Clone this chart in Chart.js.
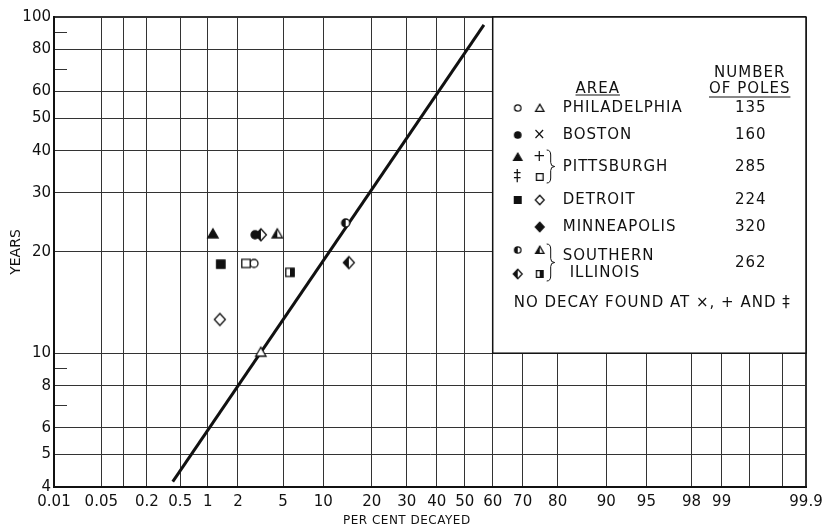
<!DOCTYPE html>
<html>
<head>
<meta charset="utf-8">
<script src="https://cdn.jsdelivr.net/npm/chart.js@4.4.1/dist/chart.umd.min.js"></script>
<style>
  html, body { margin: 0; padding: 0; background: #fff; }
  #wrap { width: 824px; height: 529px; }
</style>
</head>
<body>
<div id="wrap"><canvas id="decayChart"></canvas></div>
<script>
// axis ticks
const xTicks = [0.01, 0.05, 0.1, 0.2, 0.5, 1, 2, 5, 10, 20, 30, 40, 50, 60, 70, 80, 90, 95, 98, 99, 99.5, 99.8, 99.9];
const xTickLabels = ['0.01', '0.05', '', '0.2', '0.5', '1', '2', '5', '10', '20', '30', '40', '50', '60', '70', '80', '90', '95', '98', '99', '', '', '99.9'];
const yTicks = [4, 5, 6, 7, 8, 9, 10, 20, 30, 40, 50, 60, 70, 80, 90, 100];
const yTickLabels = ['4', '5', '6', '', '8', '', '10', '20', '30', '40', '50', '60', '', '80', '', '100'];

// points (per cent decayed, years)
const philadelphiaCircle = [{ x: 2.82, y: 18.5 }];
const philadelphiaTriangle = [{ x: 3.24, y: 10 }];
const bostonCircle = [{ x: 2.88, y: 22.5 }];
const pittsburghTriangle = [{ x: 1.13, y: 22.5 }];
const pittsburghSquare = [{ x: 2.38, y: 18.5 }];
const detroitSquare = [{ x: 1.36, y: 18.4 }];
const detroitDiamond = [{ x: 1.33, y: 12.6 }];
const illinoisCircle = [{ x: 14.05, y: 24.4 }];
const illinoisTriangle = [{ x: 4.48, y: 22.5 }];
const illinoisDiamond = [{ x: 3.25, y: 22.5 }, { x: 14.7, y: 18.6 }];
const illinoisSquare = [{ x: 5.68, y: 17.4 }];
const fitLine = [{ x: 0.41, y: 4.15 }, { x: 56.9, y: 94.7 }];

// legend table
const areaNames = ['PHILADELPHIA', 'BOSTON', 'PITTSBURGH', 'DETROIT', 'MINNEAPOLIS', 'SOUTHERN'];
const poleCounts = ['135', '160', '285', '224', '320', '262'];

const INK = '#111';
const FONT = 'DejaVu Sans';

// inverse normal cdf (Acklam)
function probit(p) {
    const a = [-39.69683028665376, 220.9460984245205, -275.9285104469687, 138.3577518672690, -30.66479806614716, 2.506628277459239];
    const b = [-54.47609879822406, 161.5858368580409, -155.6989798598866, 66.80131188771972, -13.28068155288572];
    const c = [-0.007784894002430293, -0.3223964580411365, -2.400758277161838, -2.549732539343734, 4.374664141464968, 2.938163982698783];
    const d = [0.007784695709041462, 0.3224671290700398, 2.445134137142996, 3.754408661907416];
    const pl = 0.02425;
    let q, r;
    if (p < pl) {
        q = Math.sqrt(-2 * Math.log(p));
        return (((((c[0] * q + c[1]) * q + c[2]) * q + c[3]) * q + c[4]) * q + c[5]) / ((((d[0] * q + d[1]) * q + d[2]) * q + d[3]) * q + 1);
    }
    if (p <= 1 - pl) {
        q = p - 0.5;
        r = q * q;
        return (((((a[0] * r + a[1]) * r + a[2]) * r + a[3]) * r + a[4]) * r + a[5]) * q / (((((b[0] * r + b[1]) * r + b[2]) * r + b[3]) * r + b[4]) * r + 1);
    }
    q = Math.sqrt(-2 * Math.log(1 - p));
    return -(((((c[0] * q + c[1]) * q + c[2]) * q + c[3]) * q + c[4]) * q + c[5]) / ((((d[0] * q + d[1]) * q + d[2]) * q + d[3]) * q + 1);
}

function normCdf(z) {
    const t = 1 / (1 + 0.2316419 * Math.abs(z));
    const poly = t * (0.319381530 + t * (-0.356563782 + t * (1.781477937 + t * (-1.821255978 + t * 1.330274429))));
    const v = 1 - Math.exp(-z * z / 2) / Math.sqrt(2 * Math.PI) * poly;
    return z >= 0 ? v : 1 - v;
}

// probability paper axis
class ProbitScale extends Chart.Scale {
    static id = 'probit';
    static defaults = {};

    parse(raw, index) {
        const v = Chart.LinearScale.prototype.parse.apply(this, [raw, index]);
        return isFinite(v) && v > 0 && v < 100 ? v : null;
    }
    determineDataLimits() {
        this.min = this.options.min;
        this.max = this.options.max;
    }
    buildTicks() {
        return xTicks.map(v => ({ value: v }));
    }
    configure() {
        super.configure();
        this._zStart = probit(this.min / 100);
        this._zRange = probit(this.max / 100) - this._zStart;
    }
    getPixelForValue(value) {
        if (value === null || value === undefined) return NaN;
        return this.getPixelForDecimal((probit(value / 100) - this._zStart) / this._zRange);
    }
    getValueForPixel(pixel) {
        const dec = this.getDecimalForPixel(pixel);
        return 100 * normCdf(this._zStart + dec * this._zRange);
    }
}
Chart.register(ProbitScale);

// marker glyphs
function traceShape(g, shape, cx, cy, s) {
    g.beginPath();
    if (shape === 'circle') {
        g.arc(cx, cy, 4 * s, 0, Math.PI * 2);
    } else if (shape === 'triangle') {
        g.moveTo(cx, cy - 6 * s);
        g.lineTo(cx + 5.2 * s, cy + 3 * s);
        g.lineTo(cx - 5.2 * s, cy + 3 * s);
        g.closePath();
    } else if (shape === 'square') {
        g.rect(cx - 4.2 * s, cy - 4.2 * s, 8.4 * s, 8.4 * s);
    } else if (shape === 'diamond') {
        g.moveTo(cx, cy - 6 * s);
        g.lineTo(cx + 5.5 * s, cy);
        g.lineTo(cx, cy + 6 * s);
        g.lineTo(cx - 5.5 * s, cy);
        g.closePath();
    }
}

function makeMarker(shape, fill, s = 1) {
    const c = document.createElement('canvas');
    c.width = 16;
    c.height = 16;
    const g = c.getContext('2d');
    traceShape(g, shape, 8, 8, s);
    g.fillStyle = fill === 'solid' ? INK : '#fff';
    g.fill();
    if (fill === 'left' || fill === 'right') {
        g.save();
        traceShape(g, shape, 8, 8, s);
        g.clip();
        g.fillStyle = INK;
        g.fillRect(fill === 'left' ? 0 : 8, 0, 8, 16);
        g.restore();
    }
    traceShape(g, shape, 8, 8, s);
    g.lineWidth = 1.3;
    g.strokeStyle = INK;
    g.stroke();
    return c;
}

const markers = {
    openCircle: makeMarker('circle', 'open'),
    solidCircle: makeMarker('circle', 'solid'),
    halfCircle: makeMarker('circle', 'left'),
    openTriangle: makeMarker('triangle', 'open'),
    solidTriangle: makeMarker('triangle', 'solid'),
    halfTriangle: makeMarker('triangle', 'left'),
    openSquare: makeMarker('square', 'open'),
    solidSquare: makeMarker('square', 'solid'),
    halfSquare: makeMarker('square', 'right'),
    openDiamond: makeMarker('diamond', 'open'),
    solidDiamond: makeMarker('diamond', 'solid'),
    halfDiamond: makeMarker('diamond', 'left')
};
const legendMarkers = {
    openCircle: makeMarker('circle', 'open', 0.8),
    solidCircle: makeMarker('circle', 'solid', 0.8),
    halfCircle: makeMarker('circle', 'left', 0.8),
    openTriangle: makeMarker('triangle', 'open', 0.8),
    solidTriangle: makeMarker('triangle', 'solid', 0.8),
    halfTriangle: makeMarker('triangle', 'left', 0.8),
    openSquare: makeMarker('square', 'open', 0.8),
    solidSquare: makeMarker('square', 'solid', 0.8),
    halfSquare: makeMarker('square', 'right', 0.8),
    openDiamond: makeMarker('diamond', 'open', 0.8),
    solidDiamond: makeMarker('diamond', 'solid', 0.8),
    halfDiamond: makeMarker('diamond', 'left', 0.8)
};

function pointSet(label, data, style, order) {
    return { label, data, pointStyle: style, pointRadius: 6, order, showLine: false };
}

function drawBrace(ctx, x, y1, y2) {
    const ym = (y1 + y2) / 2;
    ctx.beginPath();
    ctx.moveTo(x, y1);
    ctx.quadraticCurveTo(x + 4, y1, x + 4, y1 + 5);
    ctx.lineTo(x + 4, ym - 4);
    ctx.quadraticCurveTo(x + 4, ym, x + 8, ym);
    ctx.quadraticCurveTo(x + 4, ym, x + 4, ym + 4);
    ctx.lineTo(x + 4, y2 - 5);
    ctx.quadraticCurveTo(x + 4, y2, x, y2);
    ctx.lineWidth = 1;
    ctx.strokeStyle = INK;
    ctx.stroke();
}

// white key box over the upper right of the grid
const keyBoxPlugin = {
    id: 'keyBox',
    beforeDatasetsDraw(chart) {
        const { ctx, chartArea, scales } = chart;
        const bx = scales.x.getPixelForValue(60);
        const by = chartArea.top;
        const bw = chartArea.right - bx;
        const bh = scales.y.getPixelForValue(10) - by;
        ctx.save();
        ctx.fillStyle = '#fff';
        ctx.fillRect(bx, by, bw, bh);
        ctx.lineWidth = 1.5;
        ctx.strokeStyle = INK;
        ctx.strokeRect(bx, by, bw, bh);

        ctx.fillStyle = INK;
        ctx.textBaseline = 'middle';
        ctx.font = `15px "${FONT}"`;
        ctx.letterSpacing = '1px';

        const txt = (s, x, y, align = 'left') => {
            ctx.textAlign = align;
            ctx.fillText(s, x, y);
        };
        const underline = (s, cx, y) => {
            const w = ctx.measureText(s).width;
            ctx.beginPath();
            ctx.moveTo(cx - w / 2, y);
            ctx.lineTo(cx + w / 2, y);
            ctx.lineWidth = 1.2;
            ctx.stroke();
        };
        const sym = (m, x, y) => ctx.drawImage(legendMarkers[m], x - 8, y - 8);

        const c1 = bx + 25, c2 = bx + 47, tx = bx + 70, nx = bx + 258;

        txt('NUMBER', bx + 257, by + 56, 'center');
        txt('OF POLES', bx + 257, by + 72, 'center');
        underline('OF POLES', bx + 257, by + 80);
        txt('AREA', bx + 105, by + 72, 'center');
        underline('AREA', bx + 105, by + 78);

        // Philadelphia
        sym('openCircle', c1, by + 91);
        sym('openTriangle', c2, by + 92);
        txt(areaNames[0], tx, by + 91);
        txt(poleCounts[0], nx, by + 91, 'center');
        // Boston
        sym('solidCircle', c1, by + 118);
        txt('\u00d7', c2, by + 118, 'center');
        txt(areaNames[1], tx, by + 118);
        txt(poleCounts[1], nx, by + 118, 'center');
        // Pittsburgh
        sym('solidTriangle', c1, by + 141);
        txt('+', c2, by + 140, 'center');
        txt('\u2021', c1, by + 160, 'center');
        sym('openSquare', c2, by + 160);
        drawBrace(ctx, bx + 54, by + 133, by + 166);
        txt(areaNames[2], tx, by + 150);
        txt(poleCounts[2], nx, by + 150, 'center');
        // Detroit
        sym('solidSquare', c1, by + 183);
        sym('openDiamond', c2, by + 183);
        txt(areaNames[3], tx, by + 183);
        txt(poleCounts[3], nx, by + 183, 'center');
        // Minneapolis
        sym('solidDiamond', c2, by + 210);
        txt(areaNames[4], tx, by + 210);
        txt(poleCounts[4], nx, by + 210, 'center');
        // Southern Illinois
        sym('halfCircle', c1, by + 233);
        sym('halfTriangle', c2, by + 234);
        sym('halfDiamond', c1, by + 257);
        sym('halfSquare', c2, by + 257);
        drawBrace(ctx, bx + 54, by + 227, by + 264);
        txt(areaNames[5], tx, by + 239);
        txt('ILLINOIS', bx + 77, by + 256);
        txt(poleCounts[5], nx, by + 246, 'center');

        txt('NO DECAY FOUND AT \u00d7, + AND \u2021', bx + 21, by + 286);
        ctx.restore();
    },
    afterDraw(chart) {
        const { ctx, scales } = chart;
        ctx.save();
        ctx.fillStyle = INK;
        ctx.font = `12px "${FONT}"`;
        ctx.letterSpacing = '0.5px';
        ctx.textAlign = 'center';
        ctx.textBaseline = 'middle';
        ctx.fillText('PER CENT DECAYED', scales.x.getPixelForValue(30), 521);
        ctx.restore();
    }
};

document.addEventListener('DOMContentLoaded', function() {
    const ctx = document.getElementById('decayChart').getContext('2d');

    const datasets = [
        pointSet('Philadelphia', philadelphiaCircle, markers.openCircle, 50),
        pointSet('Philadelphia', philadelphiaTriangle, markers.openTriangle, 10),
        pointSet('Boston', bostonCircle, markers.solidCircle, 30),
        pointSet('Pittsburgh', pittsburghTriangle, markers.solidTriangle, 10),
        pointSet('Pittsburgh', pittsburghSquare, markers.openSquare, 40),
        pointSet('Detroit', detroitSquare, markers.solidSquare, 10),
        pointSet('Detroit', detroitDiamond, markers.openDiamond, 10),
        pointSet('Southern Illinois', illinoisCircle, markers.halfCircle, 10),
        pointSet('Southern Illinois', illinoisTriangle, markers.halfTriangle, 10),
        pointSet('Southern Illinois', illinoisDiamond, markers.halfDiamond, 45),
        pointSet('Southern Illinois', illinoisSquare, markers.halfSquare, 10),
        {
            label: 'fit',
            data: fitLine,
            showLine: true,
            pointRadius: 0,
            borderColor: INK,
            borderWidth: 3,
            order: 100
        }
    ];

    new Chart(ctx, {
        type: 'scatter',
        data: { datasets },
        options: {
            responsive: true,
            maintainAspectRatio: false,
            animation: false,
            events: [],
            layout: { padding: { top: 17, right: 18, left: 0, bottom: 0 } },
            plugins: {
                legend: { display: false },
                tooltip: { enabled: false }
            },
            scales: {
                x: {
                    type: 'probit',
                    min: 0.01,
                    max: 99.9,
                    afterFit: scale => {
                        scale.height = 42;
                        scale.paddingLeft = 0;
                        scale.paddingRight = 0;
                    },
                    grid: {
                        drawTicks: false,
                        color: '#333',
                        lineWidth: c => (c.tick && c.tick.value === 99.9 ? 2 : 1)
                    },
                    border: { color: INK, width: 2 },
                    ticks: {
                        autoSkip: false,
                        maxRotation: 0,
                        padding: 6,
                        color: INK,
                        font: { family: FONT, size: 15 },
                        callback: (v, i) => xTickLabels[i]
                    }
                },
                y: {
                    type: 'logarithmic',
                    min: 4,
                    max: 100,
                    afterFit: scale => {
                        scale.width = 54;
                        scale.paddingTop = 0;
                        scale.paddingBottom = 0;
                    },
                    afterBuildTicks: scale => { scale.ticks = yTicks.map(v => ({ value: v })); },
                    grid: {
                        tickLength: -13,
                        color: c => (c.tick && yTickLabels[yTicks.indexOf(c.tick.value)] === '' ? 'rgba(0,0,0,0)' : '#333'),
                        tickColor: '#333',
                        lineWidth: c => (c.tick && c.tick.value === 100 ? 2 : 1)
                    },
                    border: { color: INK, width: 2 },
                    title: {
                        display: true,
                        text: 'YEARS',
                        color: INK,
                        font: { family: FONT, size: 14 },
                        padding: { top: 8, bottom: 0 }
                    },
                    ticks: {
                        autoSkip: false,
                        padding: 16,
                        color: INK,
                        font: { family: FONT, size: 15 },
                        callback: (v, i) => yTickLabels[i]
                    }
                }
            }
        },
        plugins: [keyBoxPlugin]
    });
});
</script>
</body>
</html>
